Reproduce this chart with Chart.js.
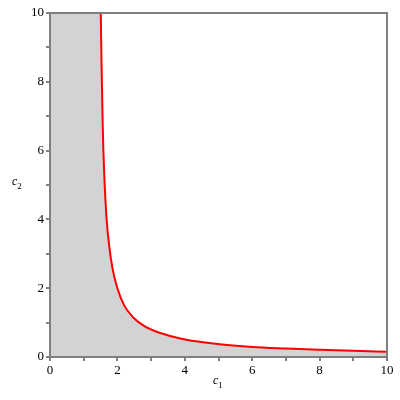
<!DOCTYPE html>
<html>
<head>
<meta charset="utf-8">
<script src="https://cdn.jsdelivr.net/npm/chart.js@4/dist/chart.umd.min.js"></script>
<style>
  html, body { margin: 0; padding: 0; background: #fff; }
  #wrap { width: 400px; height: 400px; }
</style>
</head>
<body>
<div id="wrap"><canvas id="plot" width="400" height="400"></canvas></div>
<script>
// values
const c1Values = [1.506, 1.53, 1.565, 1.61, 1.68, 1.76, 1.85, 2.0, 2.2, 2.47, 2.8, 3.3, 3.9, 4.6, 6.0, 7.0, 8.0, 9.0, 10];
const c2Values = [10, 8.5, 6.7, 5.3, 4.0, 3.2, 2.6, 2.0, 1.5, 1.15, 0.9, 0.69, 0.53, 0.42, 0.29, 0.245, 0.21, 0.18, 0.155];
// shaded strip left of the asymptote
const stripX = [0, 1.52];
const stripY = [10, 10];
const xTicks = [0, 2, 4, 6, 8, 10];
const yTicks = [0, 2, 4, 6, 8, 10];

const axisGray = '#7f7f7f';
const shade = '#d3d3d3';
const serif = "'Liberation Serif', 'Times New Roman', serif";

// ── frame + axis titles ────────────────────────────
const framePlugin = {
  id: 'frame',
  afterDraw(chart) {
    const { ctx, chartArea: a } = chart;
    ctx.save();
    ctx.strokeStyle = axisGray;
    ctx.lineWidth = 2;
    ctx.strokeRect(a.left, a.top, a.right - a.left, a.bottom - a.top);

    ctx.fillStyle = '#000';
    ctx.textBaseline = 'alphabetic';
    const label = (x, y, sub) => {
      ctx.font = 'italic 12px ' + serif;
      ctx.fillText('c', x, y);
      const w = ctx.measureText('c').width;
      ctx.font = '9px ' + serif;
      ctx.fillText(sub, x + w, y + 4);
    };
    label(213, 384, '1');
    label(12, 185, '2');
    ctx.restore();
  }
};

const tickFont = { family: serif, size: 13 };

new Chart(document.getElementById('plot'), {
  type: 'scatter',
  data: {
    datasets: [
      {
        data: c1Values.map((x, i) => ({ x, y: c2Values[i] })),
        showLine: true,
        borderColor: '#ff0000',
        borderWidth: 2,
        backgroundColor: shade,
        fill: 'origin',
        pointRadius: 0,
        cubicInterpolationMode: 'monotone'
      },
      {
        data: stripX.map((x, i) => ({ x, y: stripY[i] })),
        showLine: true,
        borderWidth: 0,
        borderColor: 'rgba(0,0,0,0)',
        backgroundColor: shade,
        fill: 'origin',
        pointRadius: 0
      }
    ]
  },
  options: {
    responsive: false,
    animation: false,
    layout: { padding: { top: 13, right: 13, left: 0, bottom: 0 } },
    plugins: { legend: { display: false }, tooltip: { enabled: false } },
    scales: {
      x: {
        type: 'linear', min: 0, max: 10,
        afterFit: s => { s.height = 43; },
        border: { color: axisGray, width: 2 },
        grid: { drawOnChartArea: false, drawTicks: true, tickLength: 4, color: axisGray, lineWidth: 2 },
        ticks: {
          stepSize: 1, color: '#000', font: tickFont, padding: 2, maxRotation: 0,
          callback: v => xTicks.includes(v) ? String(v) : ''
        }
      },
      y: {
        type: 'linear', min: 0, max: 10,
        afterFit: s => { s.width = 50; },
        border: { color: axisGray, width: 2 },
        grid: { drawOnChartArea: false, drawTicks: true, tickLength: 4, color: axisGray, lineWidth: 2 },
        ticks: {
          stepSize: 1, color: '#000', font: tickFont, padding: 2,
          callback: v => yTicks.includes(v) ? String(v) : ''
        }
      }
    }
  },
  plugins: [framePlugin]
});
</script>
</body>
</html>
